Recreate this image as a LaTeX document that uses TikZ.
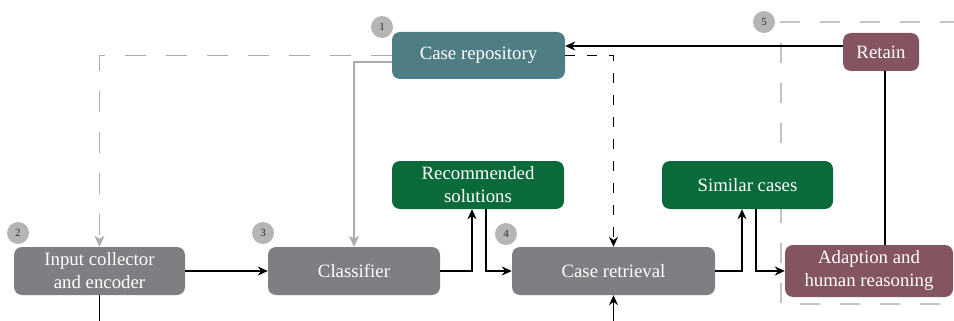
\documentclass[tikz,border=0pt]{standalone}
\usepackage{fontspec}
\setmainfont{Liberation Serif}
\usetikzlibrary{arrows.meta,calc}
\definecolor{teal1}{HTML}{4F7D84}
\definecolor{wine}{HTML}{845560}
\definecolor{dgreen}{HTML}{0A6A3A}
\definecolor{boxgray}{HTML}{7E7F83}
\definecolor{lgray}{HTML}{ABABAB}
\definecolor{rgray}{HTML}{C4C4C4}
\definecolor{badgegray}{HTML}{B5B5B5}
\tikzset{
  box/.style={rounded corners=8pt, text=white, align=center, inner sep=0pt,
    font=\fontsize{18.8}{23}\selectfont},
  badge/.style={circle, fill=badgegray, minimum size=22pt, inner sep=0pt,
    font=\fontsize{11}{11}\selectfont, text=black!80},
  blk/.style={line width=1.4pt, black},
  blkarrow/.style={blk, -{Stealth[length=10pt,width=9pt]}},
  grayarrow/.style={line width=1.2pt, lgray, -{Stealth[length=11pt,width=10pt,inset=3pt]}},
}
\begin{document}
\begin{tikzpicture}[x=1pt,y=-1pt]
\useasboundingbox (0,0) rectangle (954,321);
\begin{scope}
\clip (0,0) rectangle (954,321);
% dashed region
\draw[rgray, line width=1.1pt, dash pattern=on 20pt off 20pt] (1000,22) -- (781,22) -- (781,304) -- (1000,304);

\node[box, fill=teal1, minimum width=173pt, minimum height=47pt] (repo) at (478.5,55.5) {Case repository};
\node[box, fill=wine, minimum width=76pt, minimum height=38pt] (retain) at (881,52) {Retain};
\node[box, fill=dgreen, minimum width=172pt, minimum height=48pt] (rec) at (478,185) {Recommended\\solutions};
\node[box, fill=dgreen, minimum width=171pt, minimum height=48pt] (sim) at (747.5,185) {Similar cases};
\node[box, fill=boxgray, minimum width=171pt, minimum height=48pt] (input) at (99.5,271) {Input collector\\and encoder};
\node[box, fill=boxgray, minimum width=172pt, minimum height=48pt] (cls) at (354,271) {Classifier};
\node[box, fill=boxgray, minimum width=203pt, minimum height=48pt] (ret) at (613.5,271) {Case retrieval};
\node[box, fill=wine, minimum width=168pt, minimum height=52pt] (adapt) at (869,271) {Adaption and\\human reasoning};

\node[badge] (b1) at (382,27) {1};
\node[badge] (b2) at (18,233) {2};
\node[badge] (b3) at (263,233) {3};
\node[badge] (b4) at (506,234) {4};
\node[badge] (b5) at (764,22) {5};

\coordinate (inbot) at (99.5,330);
\coordinate (retbot) at (613.5,330);

% connectors
\draw[grayarrow, dash pattern=on 21pt off 20pt] (repo.west) -| (input.north);
\draw[grayarrow] ([yshift=-6.5pt]repo.west) -| (cls.north);
\draw[blkarrow] ([yshift=6pt]retain.west) -- ([yshift=9.5pt]repo.east);
\draw[blkarrow, dash pattern=on 10pt off 12pt] (repo.east) -| (ret.north);
\draw[blkarrow] (input.east) -- (cls.west);
\draw[blkarrow] (cls.east) -| ([xshift=-6pt]rec.south);
\draw[blkarrow] ([xshift=8pt]rec.south) |- (ret.west);
\draw[blkarrow] (ret.east) -| ([xshift=-5.5pt]sim.south);
\draw[blkarrow] ([xshift=8.5pt]sim.south) |- (adapt.west);
\draw[blk] ([xshift=4pt]retain.south) -- ([xshift=4pt]retain.south |- adapt.north);
\draw[blk] (input.south) -- (inbot);
\draw[blkarrow] (retbot) -- (ret.south);
\end{scope}
\end{tikzpicture}
\end{document}
